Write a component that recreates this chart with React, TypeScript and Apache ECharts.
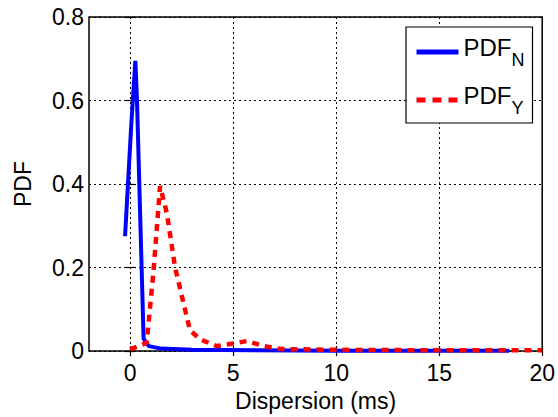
import React, { useEffect, useRef } from "react";
import * as echarts from "echarts";

const xTicks = [0, 5, 10, 15, 20];
const yTicks = [0, 0.2, 0.4, 0.6, 0.8];

// PDF_N (blue solid)
const pdfN: [number, number][] = [
  [-0.25, 0.275],
  [0.05, 0.54],
  [0.25, 0.695],
  [0.33, 0.6],
  [0.65, 0.03],
  [0.9, 0.012],
  [1.5, 0.006],
  [3, 0.003],
  [6, 0.002],
  [10, 0.001],
  [14, 0.001],
  [18.4, 0.001],
];

// PDF_Y (red dashed)
const pdfY: [number, number][] = [
  [0, 0.004],
  [0.8, 0.02],
  [1.13, 0.19],
  [1.45, 0.395],
  [1.78, 0.33],
  [2.18, 0.2],
  [2.9, 0.05],
  [3.4, 0.028],
  [4.2, 0.012],
  [5.0, 0.018],
  [5.66, 0.024],
  [6.5, 0.012],
  [7.3, 0.005],
  [10, 0.003],
  [15, 0.002],
  [20, 0.002],
];

const FONT = "Liberation Sans, Arial, Helvetica, sans-serif";

export default function App() {
  const ref = useRef<HTMLDivElement>(null);
  useEffect(() => {
    if (!ref.current) return;
    const chart = echarts.init(ref.current, undefined, { renderer: "svg" });
    const gridLine = { show: true, lineStyle: { color: "#000", width: 1, type: [2, 3] as any } };
    const tickInside = { show: true, inside: true, length: 5, lineStyle: { color: "#000", width: 1.2 } };
    chart.setOption({
      animation: false,
      backgroundColor: "#fff",
      textStyle: { fontFamily: FONT },
      grid: {
        left: 89,
        right: 15,
        top: 17,
        bottom: 62,
        show: true,
        borderColor: "#000",
        borderWidth: 1.5,
        backgroundColor: "transparent",
      },
      legend: {
        orient: "vertical",
        left: 406,
        top: 27,
        width: 130,
        padding: [8, 8, 6, 8],
        itemGap: 14,
        itemWidth: 42,
        itemHeight: 30,
        backgroundColor: "#fff",
        borderColor: "#000",
        borderWidth: 1.2,
        itemStyle: { opacity: 0 },
        lineStyle: { width: 5 },
        textStyle: {
          fontFamily: FONT,
          color: "#000",
          rich: {
            p: { fontSize: 24, fontFamily: FONT, color: "#000", padding: [0, 0, 10, 0] },
            s: { fontSize: 18, fontFamily: FONT, color: "#000", padding: [16, 0, 0, 0] },
          },
        },
        formatter: (name: string) =>
          name === "PDF_N" ? "{p|PDF}{s|N}" : "{p|PDF}{s|Y}",
        data: [
          { name: "PDF_N" },
          { name: "PDF_Y", lineStyle: { width: 5, type: [9, 7] } },
        ],
      },
      xAxis: [
        {
          type: "value",
          min: -2,
          max: 20,
          position: "bottom",
          name: "Dispersion (ms)",
          nameLocation: "middle",
          nameGap: 36,
          nameTextStyle: { fontSize: 23, color: "#000", fontFamily: FONT },
          axisLine: { show: false },
          axisTick: { ...tickInside, customValues: xTicks },
          axisLabel: {
            customValues: xTicks,
            fontSize: 23,
            color: "#000",
            margin: 10,
            fontFamily: FONT,
          },
          splitLine: gridLine,
        },
        {
          type: "value",
          min: -2,
          max: 20,
          position: "top",
          axisLine: { show: false },
          axisTick: { ...tickInside, customValues: xTicks },
          axisLabel: { show: false, customValues: xTicks },
          splitLine: { show: false },
        },
      ],
      yAxis: [
        {
          type: "value",
          min: yTicks[0],
          max: yTicks[yTicks.length - 1],
          interval: 0.2,
          position: "left",
          name: "PDF",
          nameLocation: "middle",
          nameGap: 55,
          nameTextStyle: { fontSize: 23, color: "#000", fontFamily: FONT },
          axisLine: { show: false },
          axisTick: tickInside,
          axisLabel: {
            fontSize: 23,
            color: "#000",
            margin: 5,
            fontFamily: FONT,
            formatter: (v: number) => (v === 0 ? "0" : v.toFixed(1)),
          },
          splitLine: gridLine,
        },
        {
          type: "value",
          min: yTicks[0],
          max: yTicks[yTicks.length - 1],
          interval: 0.2,
          position: "right",
          axisLine: { show: false },
          axisTick: tickInside,
          axisLabel: { show: false },
          splitLine: { show: false },
        },
      ],
      series: [
        {
          name: "PDF_N",
          type: "line",
          data: pdfN,
          showSymbol: false,
          symbol: "none",
          lineStyle: { color: "#0000ff", width: 4 },
          itemStyle: { color: "#0000ff" },
          z: 3,
        },
        {
          name: "PDF_Y",
          type: "line",
          data: pdfY,
          showSymbol: false,
          symbol: "none",
          lineStyle: { color: "#ff0000", width: 4.5, type: [7, 6] },
          itemStyle: { color: "#ff0000" },
          z: 4,
        },
      ],
    });
    return () => chart.dispose();
  }, []);
  return (
    <div
      ref={ref}
      style={{ position: "absolute", left: 0, top: 0, width: 558, height: 417 }}
    />
  );
}
